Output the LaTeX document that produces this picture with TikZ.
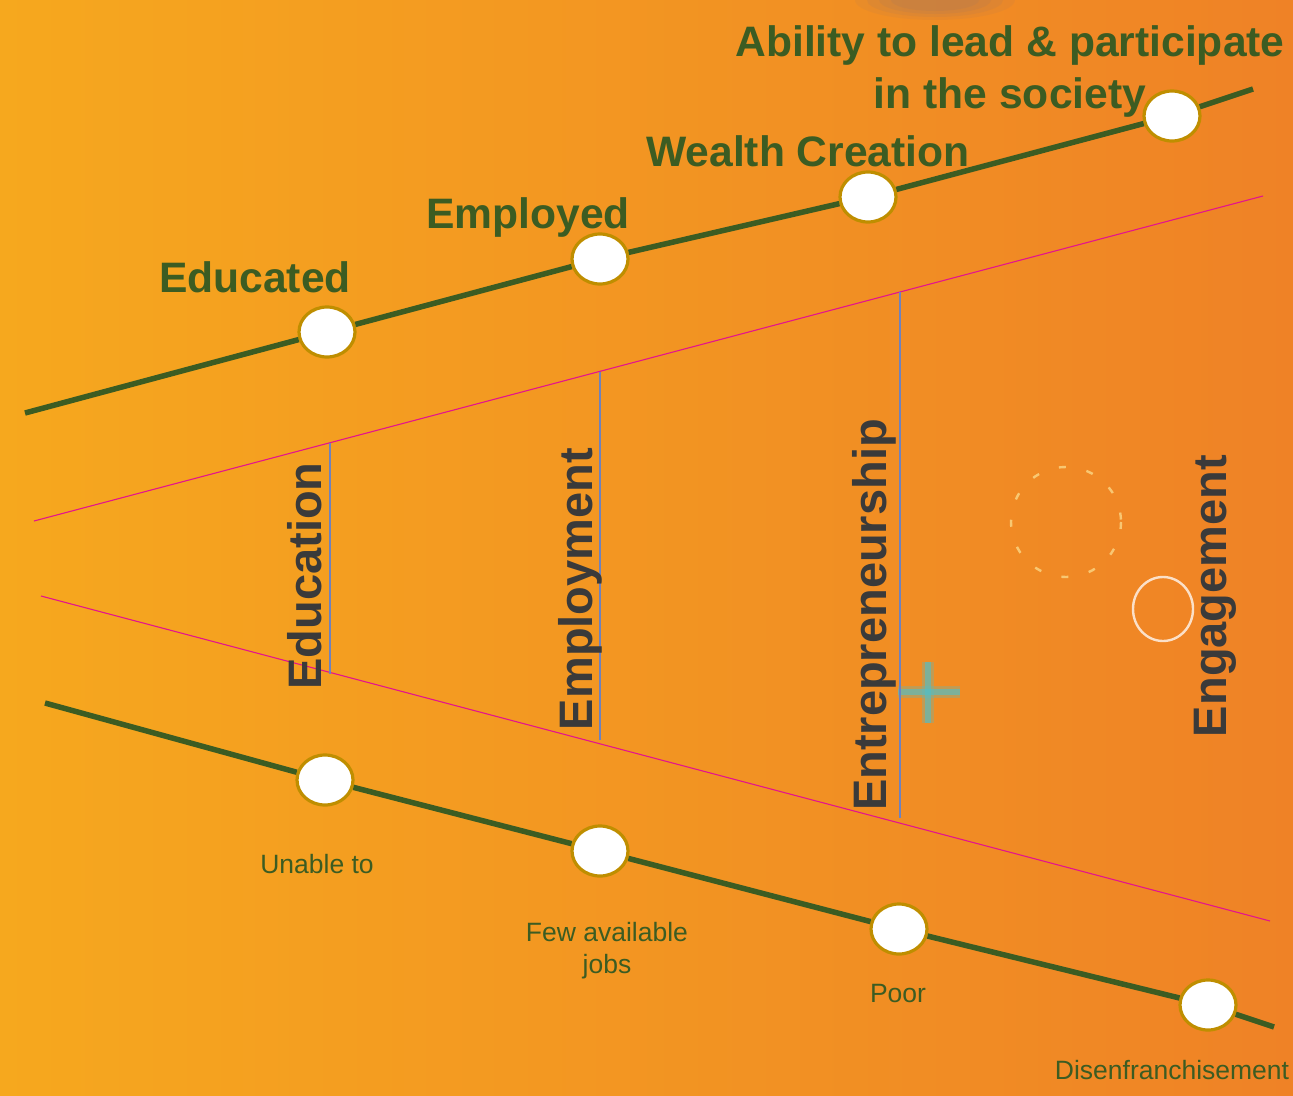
\documentclass[tikz,border=0pt]{standalone}
\usepackage{fontspec}
\setmainfont{Liberation Sans}
\usetikzlibrary{shapes.geometric}
\definecolor{bgL}{RGB}{246,168,30}
\definecolor{bgR}{RGB}{239,130,38}
\definecolor{dgreen}{RGB}{60,92,34}
\definecolor{goldring}{RGB}{191,142,0}
\definecolor{mag}{RGB}{228,20,140}
\definecolor{bluel}{RGB}{110,130,190}
\definecolor{dgray}{RGB}{58,58,58}
\definecolor{crossc}{RGB}{80,190,200}
\definecolor{blobc}{RGB}{170,120,90}
\begin{document}
\begin{tikzpicture}[x=1pt,y=-1pt,
  stepdot/.style={ellipse,draw=goldring,line width=3.2pt,fill=white,minimum width=56pt,minimum height=50pt,inner sep=0pt},
  track/.style={draw=dgreen,line width=5.5pt},
  pinkline/.style={draw=mag,line width=1.1pt},
  divider/.style={draw=bluel,line width=1.3pt},
  goal/.style={text=dgreen,font=\bfseries\fontsize{42.6}{52}\selectfont,inner sep=0pt,align=center},
  barrier/.style={text=dgreen,font=\fontsize{26.5}{32}\selectfont,inner sep=0pt,align=center},
  pillar/.style={text=dgray,font=\bfseries\fontsize{47}{52}\selectfont,inner sep=0pt,rotate=90,anchor=base}]
\useasboundingbox (0,0) rectangle (1293,1095);
\shade[left color=bgL,right color=bgR] (0,0) rectangle (1293,1095);
% decorations
\foreach \r/\o in {1/0.12,0.85/0.15,0.7/0.18,0.55/0.2}
  \fill[blobc,opacity=\o] (935,0) ellipse ({80*\r} and {20*\r});
\draw[white!70!yellow,opacity=0.55,line width=2.4pt,dash pattern=on 7pt off 21pt] (1066,522) circle (55);
\draw[white,opacity=0.75,line width=2.4pt] (1163,609) ellipse (30 and 32);
\draw[crossc,opacity=0.3,line width=12pt] (928,662) -- (928,723);
\draw[crossc,opacity=0.3,line width=12pt] (898,692) -- (960,692);
\draw[crossc,opacity=0.6,line width=6pt] (928,662) -- (928,723);
\draw[crossc,opacity=0.6,line width=6pt] (898,692) -- (960,692);
% pink lines
\coordinate (ua) at (34,521); \coordinate (ub) at (1263,196);
\coordinate (la) at (41,596); \coordinate (lb) at (1270,921);
\draw[pinkline] (ua) -- (ub);
\draw[pinkline] (la) -- (lb);
% dividers
\coordinate (d1a) at (330,443); \coordinate (d1b) at (330,674);
\coordinate (d2a) at (600,372); \coordinate (d2b) at (600,740);
\coordinate (d3a) at (900,292); \coordinate (d3b) at (900,818);
\draw[divider] (d1a) -- (d1b);
\draw[divider] (d2a) -- (d2b);
\draw[divider] (d3a) -- (d3b);
% top track
\coordinate (ts) at (25,413); \coordinate (te) at (1253,89);
\node[stepdot] (t1) at (327,332) {};
\node[stepdot] (t2) at (600,259) {};
\node[stepdot] (t3) at (868,197) {};
\node[stepdot] (t4) at (1172,116) {};
\draw[track] (ts) -- (t1) (t1) -- (t2) (t2) -- (t3) (t3) -- (t4) (t4) -- (te);
% bottom track
\coordinate (bs) at (45,703); \coordinate (be) at (1274,1027);
\node[stepdot] (b1) at (325,780) {};
\node[stepdot] (b2) at (600,851) {};
\node[stepdot] (b3) at (899,929) {};
\node[stepdot] (b4) at (1208,1005) {};
\draw[track] (bs) -- (b1) (b1) -- (b2) (b2) -- (b3) (b3) -- (b4) (b4) -- (be);
% goals
\node[goal,anchor=base] (g1) at (255,292) {Educated};
\node[goal,anchor=base] (g2) at (528,228) {Employed};
\node[goal,anchor=base] (g3) at (808,166) {Wealth Creation};
\node[goal,anchor=north] (g4) at (1010,25) {Ability to lead \& participate\\in the society};
% pillars
\node[pillar] (p1) at (321,576) {Education};
\node[pillar] (p2) at (592,589) {Employment};
\node[pillar] (p3) at (886,615) {Entrepreneurship};
\node[pillar] (p4) at (1226,596) {Engagement};
% barriers
\node[barrier] (r1) at (317,864) {Unable to};
\node[barrier] (r2) at (607,951) {Few available\\jobs};
\node[barrier] (r3) at (898,994) {Poor};
\node[barrier] (r4) at (1172,1070) {Disenfranchisement};
\end{tikzpicture}
\end{document}
